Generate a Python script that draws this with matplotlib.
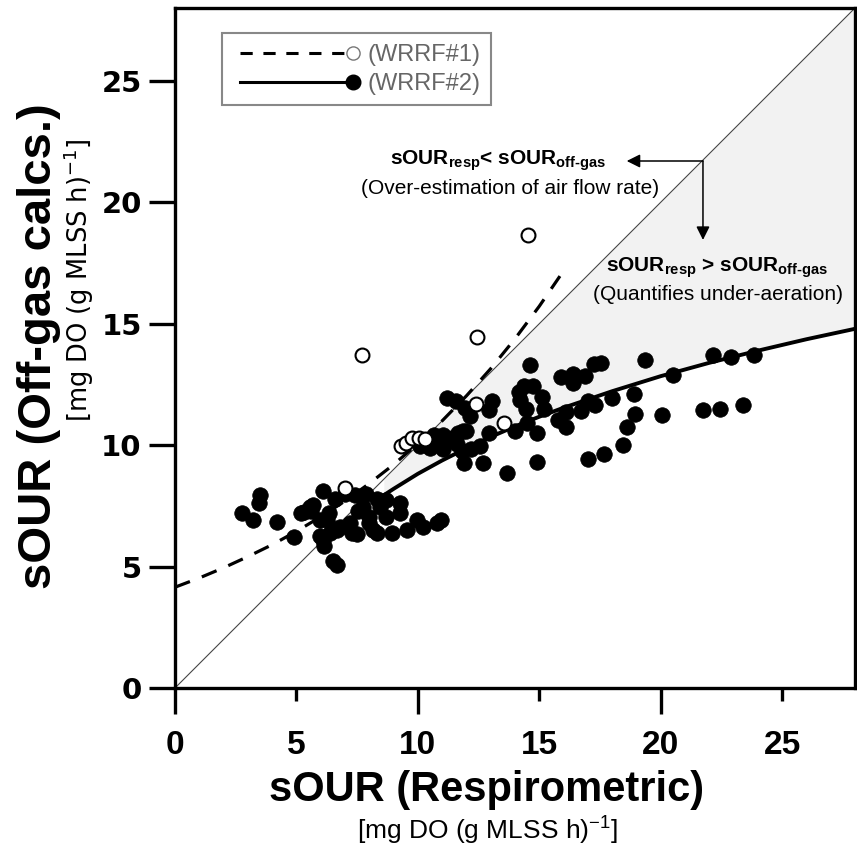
import numpy as np
import matplotlib
matplotlib.use("Agg")
import matplotlib.pyplot as plt
from matplotlib.lines import Line2D
from matplotlib.legend_handler import HandlerLine2D

plt.rcParams['font.family'] = ['Liberation Sans', 'DejaVu Sans']

# ---- data ----
# WRRF#1 (open circles)
wrrf1_x = [7.0, 7.7, 9.3, 9.5, 9.75, 10.05, 10.3, 12.4, 13.55, 12.45, 14.55]
wrrf1_y = [8.25, 13.7, 9.95, 10.1, 10.3, 10.3, 10.25, 11.7, 10.9, 14.45, 18.65]

# WRRF#2 (filled circles)
wrrf2_x = [2.75, 3.2, 3.45, 3.5, 4.2, 4.9,
           5.3, 5.55, 5.7, 6.1, 5.95, 5.95, 6.15, 6.1, 6.5, 6.65,
           6.4, 6.65, 6.8, 6.6, 7.0, 7.4, 7.85, 6.35, 7.55, 7.5, 7.2, 7.75, 8.0,
           8.3, 8.45, 8.7, 8.7, 8.95, 9.25, 9.25, 9.55, 9.95, 10.2, 10.8, 10.95,
           8.15, 7.3, 6.25, 8.3, 8.0, 5.6, 5.2,
           10.1, 10.35, 10.5, 10.65, 10.8, 10.9, 11.05, 11.05, 11.2, 11.4, 11.65,
           11.6, 11.85, 12.0, 11.8, 12.2, 11.9, 12.7, 13.65, 14.9,
           11.2, 11.55, 11.95, 12.15, 13.05, 12.95, 12.95, 12.55,
           14.15, 14.35, 14.75, 14.2, 14.45, 15.1, 15.2, 14.6,
           14.0, 14.5, 14.9, 15.75, 16.1, 16.1, 16.7, 17.0, 17.3, 18.0,
           15.9, 16.4, 16.4, 16.9, 17.25, 17.55, 19.35, 20.5, 22.15, 22.9, 23.85,
           18.9, 18.95, 18.6, 18.45, 17.65, 17.0, 20.05, 21.75, 22.45, 23.4]
wrrf2_y = [7.2, 6.9, 7.6, 7.95, 6.85, 6.2,
           7.25, 7.45, 7.55, 8.1, 6.9, 6.25, 5.85, 6.1, 5.25, 5.05,
           6.4, 6.5, 6.65, 7.8, 8.0, 7.95, 8.0, 7.2, 7.3, 6.35, 6.8, 7.45, 7.05,
           6.4, 7.45, 7.05, 7.75, 6.4, 7.6, 7.2, 6.5, 6.9, 6.65, 6.8, 6.9,
           6.5, 6.4, 6.9, 7.8, 6.8, 7.3, 7.2,
           9.95, 10.15, 9.9, 10.4, 10.2, 10.05, 10.4, 9.85, 10.2, 10.3, 10.5,
           10.05, 10.6, 10.6, 9.75, 9.85, 9.25, 9.25, 8.85, 9.3,
           11.95, 11.8, 11.55, 11.2, 11.8, 11.45, 10.5, 9.95,
           12.2, 12.45, 12.45, 11.85, 11.5, 12.0, 11.5, 13.3,
           10.6, 10.9, 10.5, 11.05, 11.35, 10.75, 11.4, 11.8, 11.65, 11.95,
           12.8, 12.95, 12.55, 12.85, 13.35, 13.4, 13.5, 12.9, 13.7, 13.65, 13.7,
           12.1, 11.3, 10.75, 10.0, 9.65, 9.45, 11.25, 11.45, 11.5, 11.65]

# trend curves
dash_x = [0, 1, 2, 3, 4, 5, 6, 7, 8, 9, 10, 11, 12, 13, 14, 15, 15.85]
dash_y = [4.15, 4.53, 4.95, 5.41, 5.90, 6.45, 7.05, 7.70, 8.42, 9.20, 10.06,
          11.00, 12.03, 13.15, 14.38, 15.72, 16.96]
solid_x = [8.6, 9, 10, 11, 12, 13, 14, 15, 16, 18, 20, 22, 24, 26, 28]
solid_y = [7.94, 8.20, 8.82, 9.37, 9.87, 10.34, 10.77, 11.17, 11.54, 12.22,
           12.84, 13.39, 13.89, 14.36, 14.79]

x_major = [0, 10, 20]
x_minor = [5, 15, 25]
y_ticks = [0, 5, 10, 15, 20, 25]
lim = 28

NARROW = ['Liberation Sans Narrow', 'Liberation Sans', 'DejaVu Sans']

# ---- figure ----
fig = plt.figure(figsize=(8.57, 8.52), dpi=100)
ax = fig.add_axes([175/857, 1-688/852, 680/857, 680/852])
ax.set_xlim(0, lim)
ax.set_ylim(0, lim)

# shaded zone between 1:1 line and solid curve
sx = np.array(solid_x)
ax.fill_between(sx, np.array(solid_y), sx, color='#f2f2f2', zorder=0, lw=0)
ax.plot([0, lim], [0, lim], color='#444444', lw=0.8, zorder=1)

ax.plot(dash_x, dash_y, color='black', lw=2.3, ls=(0, (5, 4)), zorder=2)
ax.plot(solid_x, solid_y, color='black', lw=2.8, zorder=2)

ax.plot(wrrf2_x, wrrf2_y, 'o', ms=11.2, mfc='black', mec='black', mew=0.5, zorder=3, ls='none')
ax.plot(wrrf1_x, wrrf1_y, 'o', ms=10, mfc='white', mec='black', mew=1.5, zorder=4, ls='none')

# legend
h1 = Line2D([], [], color='black', lw=2.2, ls=(0, (4, 3.5)), marker='o', ms=9.5,
            mfc='white', mec='#777777', mew=1.0)
h2 = Line2D([], [], color='black', lw=2.2, ls='-', marker='o', ms=10.5,
            mfc='black', mec='black')


class EndMarker(HandlerLine2D):
    def create_artists(self, *args, **kwargs):
        arts = super().create_artists(*args, **kwargs)
        for a in arts:
            a.set_markevery([1])
        return arts


leg = ax.legend([h1, h2], ['(WRRF#1)', '(WRRF#2)'], numpoints=2,
                handler_map={h1: EndMarker(), h2: EndMarker()},
                loc='upper left', bbox_to_anchor=(0.069, 0.963), borderaxespad=0,
                fontsize=17, handlelength=5.4, handletextpad=0.3, labelspacing=0.3,
                borderpad=0.45, fancybox=False, framealpha=1, edgecolor='#888888')
leg.get_frame().set_linewidth(1.5)
for t in leg.get_texts():
    t.set_color('#666666')

# annotations
corner = (21.74, 21.7)
ax.annotate('', xy=(18.6, corner[1]), xytext=corner,
            arrowprops=dict(arrowstyle='-|>', color='black', lw=1.1,
                            mutation_scale=20, shrinkA=0, shrinkB=0))
ax.annotate('', xy=(corner[0], 18.45), xytext=corner,
            arrowprops=dict(arrowstyle='-|>', color='black', lw=1.1,
                            mutation_scale=20, shrinkA=0, shrinkB=0))
ax.text(13.3, 21.7, 'sOUR$_\\mathregular{resp}$< sOUR$_\\mathregular{off\u2010gas}$',
        ha='center', va='center', fontsize=15, fontweight='bold')
ax.text(13.8, 20.55, '(Over-estimation of air flow rate)', ha='center', va='center',
        fontsize=15)
ax.text(22.3, 17.3, 'sOUR$_\\mathregular{resp}$ > sOUR$_\\mathregular{off\u2010gas}$',
        ha='center', va='center', fontsize=15, fontweight='bold')
ax.text(22.35, 16.2, '(Quantifies under-aeration)', ha='center', va='center',
        fontsize=15)

# axes styling
for s in ax.spines.values():
    s.set_linewidth(2.4)
ax.set_xticks(x_major)
ax.set_xticks(x_minor, minor=True)
ax.set_xticklabels([str(v) for v in x_major])
ax.set_xticklabels([str(v) for v in x_minor], minor=True)
ax.set_yticks(y_ticks)
ax.set_yticklabels([str(v) for v in y_ticks])
ax.tick_params(axis='x', which='major', length=19, width=2.4, pad=11)
ax.tick_params(axis='x', which='minor', length=9, width=2.4, pad=21)
ax.tick_params(axis='y', which='major', length=19, width=2.4, pad=5)
for t in ax.get_xticklabels(minor=False) + ax.get_xticklabels(minor=True):
    t.set_fontweight('bold')
    t.set_fontsize(24)
    t.set_family(NARROW)
for t in ax.get_yticklabels():
    t.set_fontweight('bold')
    t.set_fontsize(21)
    t.set_family(['DejaVu Sans'])

fig.text(487/857, 1-790/852, 'sOUR (Respirometric)', ha='center', va='center',
         fontsize=30, fontweight='bold')
fig.text(488/857, 1-830/852, r'[mg DO (g MLSS h)$^\mathregular{-1}$]', ha='center',
         va='center', fontsize=19)
fig.text(39/857, 1-346/852, 'sOUR (Off-gas calcs.)', ha='center', va='center',
         rotation=90, fontsize=34, fontweight='bold')
fig.text(79/857, 1-280/852, r'[mg DO (g MLSS h)$^\mathregular{-1}$]', ha='center',
         va='center', rotation=90, fontsize=18.5, family=['DejaVu Sans'])

fig.savefig('out.png', dpi=100)
